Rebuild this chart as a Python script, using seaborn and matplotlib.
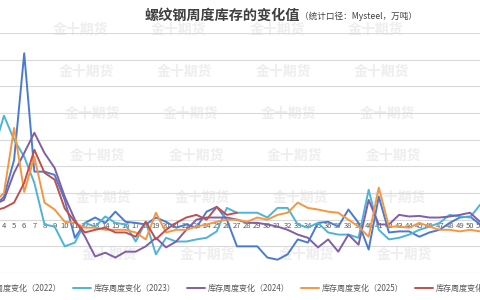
import numpy as np
import pandas as pd
import matplotlib.pyplot as plt
import seaborn as sns

weeks = list(range(1, 53))

inv_2022 = [9, 15, 24, 43, 112, 312, 90, 90, 84, 37, -34, -6, 4, -6, 15, -4, -6, -9, 4, -4,
            -15, -9, -15, 15, 24, 0, -50, -50, -50, -71, -75, -65, -37, -43, -6, -4, -13, 19, -6, -56,
            43, -24, -22, -22, -32, -24, -19, -6, 4, 6, -9, 0]
inv_2023 = [56, 75, 131, 195, 150, 118, 69, -9, -13, -50, -43, -6, -13, 6, -6, -9, -41, -4, -65, -34,
            -41, -41, -37, -34, -22, 22, 13, 13, 13, 4, 22, 22, -9, -15, -6, -24, -28, -28, -34, 56,
            -19, -37, -34, -28, -19, -13, -6, 9, 6, 4, 28, 37]
inv_2024 = [15, 22, 28, 37, 88, 125, 163, 125, 97, 43, 0, -32, -69, -62, -71, -60, -60, -50, -34, -52,
            -41, -19, 0, 4, 4, 4, 0, -6, -6, -9, -13, -19, -28, -34, -52, -37, -60, -28, -47, 37,
            -9, -9, 9, 6, 7, 4, 4, 6, 9, 13, -4, 0]
inv_2025 = [15, 22, 32, 50, 172, 52, 118, 32, 19, -4, -6, -15, -15, -19, -19, -19, -24, -37, 13, -24,
            -19, -19, -13, -9, -4, 0, 0, -4, 4, 0, 9, 13, 32, 22, 19, 15, 13, 0, -13, -32,
            60, -13, -13, -15, -6, -13, -19, -19, -22, -19, -22, -19]
inv_2026 = [9, 13, 17, 22, 32, 69, 131, 88, 75, 21, -4, -24, -19, -15, -24, -24, -32, -4, -37, -19,
            -6, 4, 9, 0, 24, 9, 13] + [np.nan] * 25

# week labels that fall inside the cropped picture
shown_weeks = list(range(4, 52))

series_names = ["库存周度变化（2022）", "库存周度变化（2023）", "库存周度变化（2024）",
                "库存周度变化（2025）", "库存周度变化（2026）"]
colors = ["#4a7bd0", "#4db4d8", "#7f5fa8", "#f7963f", "#c0504d"]

df = pd.DataFrame({"week": weeks})
for name, vals in zip(series_names, [inv_2022, inv_2023, inv_2024, inv_2025, inv_2026]):
    df[name] = vals
long_df = df.melt(id_vars="week", var_name="series", value_name="change").dropna()

sns.set_theme(style="white")
plt.rcParams["font.family"] = ["Noto Sans CJK SC", "DejaVu Sans"]

fig = plt.figure(figsize=(4.8, 3.0), dpi=100)
# plot area is wider than the picture (left/right cut off like the source)
ax = fig.add_axes([-31.5 / 480, 0.09, 526.8 / 480, 0.80])
ax.set_zorder(2)

# faint watermark, behind the plot
for j, yy in enumerate([0.90, 0.76, 0.62, 0.48, 0.34, 0.15]):
    for i in range(4):
        fig.text(0.11 + i * 0.205 + j * 0.012, yy, "金十期货", fontsize=10, fontweight="bold",
                 color="#eeeeee", ha="left", va="center", zorder=-5)

sns.lineplot(data=long_df, x="week", y="change", hue="series", palette=colors,
             linewidth=1.4, ax=ax, legend=False, zorder=3)

ax.spines["bottom"].set_position(("data", 0))
for s in ["top", "right", "left", "bottom"]:
    ax.spines[s].set_visible(False)
ax.set_xlim(0.5, 52.5)
ax.set_ylim(-100, 350)
ax.set_yticks(np.arange(-100, 351, 50))
ax.yaxis.grid(True, color="#d9d9d9", linewidth=0.8)
ax.set_axisbelow(True)
ax.set_yticklabels([])
ax.tick_params(axis="y", length=0)
ax.set_xticks(shown_weeks)
ax.set_xticklabels([str(w) for w in shown_weeks])
ax.tick_params(axis="x", length=0, pad=1.5, labelsize=5.5, labelcolor="#595959")
ax.patch.set_alpha(0)
ax.set_xlabel("")
ax.set_ylabel("")

fig.text(300 / 480, 0.948, "螺纹钢周度库存的变化值", fontsize=10.2, fontweight="bold",
         color="#404040", ha="right", va="center")
fig.text(300 / 480, 0.946, "（统计口径：Mysteel，万吨）", fontsize=6.2,
         color="#404040", ha="left", va="center")

handles = [plt.Line2D([0], [0], color=c, linewidth=1.4) for c in colors]
fig.legend(handles, series_names, loc="center", bbox_to_anchor=(0.497, 0.04), ncol=5,
           frameon=False, fontsize=5.8, handlelength=2.2, handletextpad=0.4,
           columnspacing=1.4, labelcolor="#595959")

fig.savefig("out.png", dpi=100)
